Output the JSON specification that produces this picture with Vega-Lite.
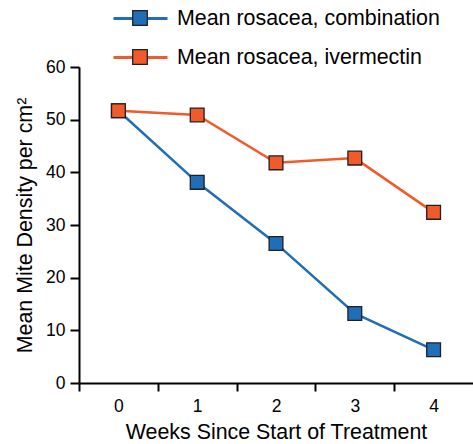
{
  "$schema": "https://vega.github.io/schema/vega-lite/v6.json",
  "width": 394,
  "height": 316,
  "autosize": {"type": "none"},
  "padding": {"left": 79, "top": 67, "right": 0, "bottom": 61},
  "config": {
    "font": "Liberation Sans",
    "view": {"stroke": null},
    "axis": {
      "grid": false,
      "domainColor": "#000000",
      "domainWidth": 2,
      "tickColor": "#000000",
      "tickWidth": 2,
      "labelColor": "#000000",
      "labelFont": "Liberation Sans",
      "labelFontSize": 17.5,
      "titleColor": "#000000",
      "titleFont": "Liberation Sans",
      "titleFontSize": 21.4,
      "titleFontWeight": "normal"
    },
    "legend": {
      "labelFont": "Liberation Sans",
      "labelFontSize": 21.4,
      "labelColor": "#000000",
      "labelLimit": 0
    }
  },
  "data": {
    "values": [
      {"week": 0, "density": 51.7, "series": "Mean rosacea, combination"},
      {"week": 1, "density": 38.1, "series": "Mean rosacea, combination"},
      {"week": 2, "density": 26.5, "series": "Mean rosacea, combination"},
      {"week": 3, "density": 13.2, "series": "Mean rosacea, combination"},
      {"week": 4, "density": 6.3, "series": "Mean rosacea, combination"},
      {"week": 0, "density": 51.7, "series": "Mean rosacea, ivermectin"},
      {"week": 1, "density": 50.9, "series": "Mean rosacea, ivermectin"},
      {"week": 2, "density": 41.8, "series": "Mean rosacea, ivermectin"},
      {"week": 3, "density": 42.7, "series": "Mean rosacea, ivermectin"},
      {"week": 4, "density": 32.4, "series": "Mean rosacea, ivermectin"}
    ]
  },
  "encoding": {
    "x": {
      "field": "week",
      "type": "quantitative",
      "scale": {"domain": [-0.5, 4.5], "nice": false, "zero": false},
      "axis": {
        "title": "Weeks Since Start of Treatment",
        "values": [0, 1, 2, 3, 4],
        "tickOffset": -39.4,
        "labelOffset": 39.4,
        "tickSize": 8,
        "labelPadding": 6,
        "titlePadding": 7
      }
    },
    "y": {
      "field": "density",
      "type": "quantitative",
      "scale": {"domain": [0, 60], "nice": false},
      "axis": {
        "title": "Mean Mite Density per cm²",
        "values": [0, 10, 20, 30, 40, 50, 60],
        "tickSize": 9,
        "labelPadding": 5,
        "titlePadding": 10
      }
    }
  },
  "layer": [
    {
      "mark": {"type": "line", "strokeWidth": 2.5},
      "encoding": {
        "stroke": {
          "field": "series",
          "type": "nominal",
          "scale": {
            "domain": ["Mean rosacea, combination", "Mean rosacea, ivermectin"],
            "range": ["#1f6eb7", "#f15a2b"]
          },
          "legend": {
            "title": null,
            "orient": "none",
            "legendX": 33,
            "legendY": -77,
            "symbolType": "M-1,0H1",
            "symbolSize": 2916,
            "symbolStrokeWidth": 3,
            "labelOffset": 8,
            "rowPadding": -7,
            "zindex": 0
          }
        }
      }
    },
    {
      "mark": {
        "type": "point",
        "shape": "square",
        "filled": true,
        "size": 190,
        "opacity": 1,
        "stroke": "#231f20",
        "strokeWidth": 1.3
      },
      "encoding": {
        "fill": {
          "field": "series",
          "type": "nominal",
          "scale": {"range": ["#1f6eb7", "#f15a2b"]},
          "legend": {
            "title": null,
            "orient": "none",
            "legendX": 33,
            "legendY": -77,
            "symbolType": "M-0.27,-0.27H0.27V0.27H-0.27Z",
            "symbolSize": 2916,
            "symbolStrokeColor": "#231f20",
            "symbolStrokeWidth": 1.3,
            "symbolOpacity": 1,
            "labelOffset": 8,
            "labelOpacity": 0,
            "rowPadding": -7,
            "zindex": 1
          }
        }
      }
    }
  ]
}
